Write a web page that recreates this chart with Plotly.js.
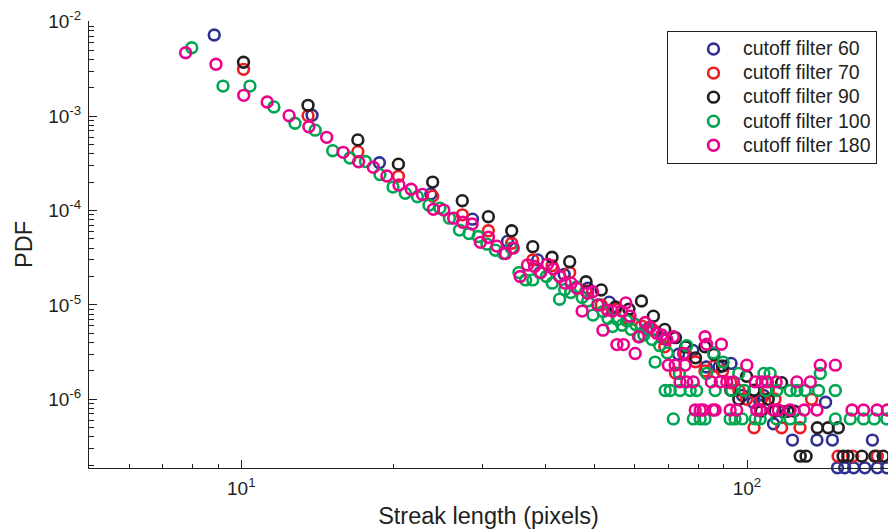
<!DOCTYPE html>
<html>
<head>
<meta charset="utf-8">
<script src="https://cdn.plot.ly/plotly-3.0.1.min.js"></script>
<style>html,body{margin:0;padding:0;background:#fff;}#chart{width:888px;height:529px;}</style>
</head>
<body>
<div id="chart"></div>
<script>
// ---- data ----
const seriesNames = ["cutoff filter 60", "cutoff filter 70", "cutoff filter 90", "cutoff filter 100", "cutoff filter 180"];

const x60 = [8.84, 13.8, 18.75, 23.7, 28.65, 33.6, 38.55, 43.5, 48.45, 53.4, 58.35, 63.3, 68.25, 73.2, 78.15, 83.1, 88.05, 93.0, 97.95, 102.9, 106.0, 107.85, 112.8, 117.75, 123.0, 137.5, 143.0, 147.5, 151.0, 156.0, 162.5, 171.0, 177.0, 181.0, 189.0];
const y60 = [7.23e-3, 1.02e-3, 3.2e-4, 1.5e-4, 8.1e-5, 4.7e-5, 3.0e-5, 2.1e-5, 1.5e-5, 1.07e-5, 7.0e-6, 5.5e-6, 4.4e-6, 3.0e-6, 3.3e-6, 2.2e-6, 2.2e-6, 2.4e-6, 1.1e-6, 9.3e-7, 9.5e-7, 1.1e-6, 5.5e-7, 7.4e-7, 3.7e-7, 3.7e-7, 9.3e-7, 3.7e-7, 1.88e-7, 1.88e-7, 1.88e-7, 1.88e-7, 3.7e-7, 1.88e-7, 1.88e-7];

const x70 = [10.1, 13.55, 17.0, 20.45, 23.9, 27.35, 30.8, 34.25, 37.7, 41.15, 44.6, 48.05, 51.5, 54.95, 58.4, 61.85, 65.3, 68.75, 72.2, 75.65, 79.1, 82.55, 86.0, 89.45, 92.9, 96.35, 99.8, 103.25, 106.7, 110.15, 113.6, 117.05, 120.5, 127.3, 134.2, 151.4, 161.8, 181.0];
const y70 = [3.13e-3, 1.01e-3, 4.2e-4, 2.3e-4, 1.42e-4, 9.0e-5, 6.1e-5, 4.5e-5, 3.0e-5, 2.6e-5, 2.2e-5, 1.4e-5, 1.0e-5, 9.0e-6, 6.9e-6, 6.0e-6, 5.4e-6, 3.6e-6, 1.9e-6, 3.0e-6, 2.5e-6, 2.0e-6, 2.25e-6, 2.0e-6, 1.5e-6, 1.25e-6, 1.0e-6, 5.0e-7, 1.0e-6, 1.25e-6, 1.0e-6, 5.0e-7, 7.5e-7, 5.0e-7, 1.0e-6, 2.5e-7, 2.5e-7, 2.5e-7];

const x90 = [10.1, 13.55, 17.0, 20.45, 23.9, 27.35, 30.8, 34.25, 37.7, 41.15, 44.6, 48.05, 51.5, 54.95, 58.4, 61.85, 65.3, 68.75, 72.2, 75.65, 79.1, 82.55, 86.0, 89.45, 92.9, 96.35, 99.8, 103.25, 106.7, 110.15, 113.6, 117.05, 120.5, 123.95, 127.4, 130.85, 137.75, 144.65, 151.55, 154.9, 158.3, 168.7, 179.0, 185.9];
const y90 = [3.72e-3, 1.3e-3, 5.6e-4, 3.1e-4, 2.0e-4, 1.27e-4, 8.6e-5, 6.1e-5, 4.14e-5, 3.2e-5, 2.87e-5, 1.76e-5, 1.44e-5, 9.5e-6, 9.0e-6, 1.1e-5, 7.6e-6, 5.5e-6, 4.5e-6, 3.6e-6, 2.75e-6, 3.6e-6, 3.0e-6, 2.25e-6, 1.25e-6, 1.0e-6, 1.75e-6, 1.25e-6, 7.5e-7, 1.0e-6, 7.5e-7, 1.5e-6, 7.5e-7, 7.5e-7, 2.5e-7, 2.5e-7, 5.0e-7, 5.0e-7, 5.0e-7, 2.5e-7, 2.5e-7, 2.5e-7, 2.5e-7, 2.5e-7];

const x100 = [7.98, 9.2, 10.4, 11.6, 12.77, 14.0, 15.16, 16.4, 17.6, 18.8, 19.95, 21.1, 22.3, 23.5, 24.7, 25.8, 27.0, 28.2, 29.4, 30.6, 31.8, 33.0, 34.2, 35.4, 36.5, 37.7, 38.9, 40.1, 41.2, 42.6, 43.6, 44.8, 46.0, 47.2, 48.4, 49.6, 50.8, 51.9, 53.1, 54.2, 55.4, 56.6, 57.8, 59.0, 60.2, 61.3, 62.5, 63.7, 64.9, 65.8, 67.2, 68.9, 69.6, 70.5, 71.5, 73.5, 73.7, 76.0, 77.2, 78.3, 79.5, 80.8, 82.6, 83.2, 85.8, 86.5, 89.7, 92.6, 93.3, 94.7, 96.3, 97.8, 98.8, 103.8, 106.2, 108.0, 109.0, 111.1, 114.5, 114.5, 121.7, 121.7, 125.5, 127.4, 130.3, 138.5, 139.6, 149.5, 149.5, 160.0, 170.0, 178.5, 189.0];
const y100 = [5.3e-3, 2.08e-3, 2.08e-3, 1.25e-3, 8.4e-4, 7.1e-4, 4.3e-4, 3.6e-4, 3.3e-4, 2.4e-4, 1.77e-4, 1.52e-4, 1.4e-4, 1.14e-4, 1.06e-4, 8.3e-5, 6.2e-5, 5.7e-5, 5.3e-5, 4.4e-5, 3.8e-5, 3.5e-5, 4.0e-5, 2.2e-5, 1.84e-5, 1.84e-5, 2.2e-5, 2.0e-5, 1.7e-5, 1.15e-5, 1.45e-5, 1.35e-5, 1.55e-5, 1.2e-5, 1.1e-5, 7.8e-6, 1.0e-5, 8.5e-6, 7.2e-6, 5.9e-6, 7.0e-6, 6.1e-6, 6.8e-6, 5.5e-6, 6.2e-6, 4.6e-6, 4.8e-6, 5.6e-6, 4.3e-6, 2.48e-6, 3.7e-6, 1.24e-6, 3.1e-6, 1.24e-6, 6.2e-7, 1.88e-6, 1.24e-6, 3.7e-6, 1.24e-6, 6.2e-7, 1.24e-6, 6.2e-7, 6.2e-7, 1.88e-6, 3.1e-6, 1.24e-6, 2.48e-6, 6.2e-7, 1.24e-6, 6.2e-7, 1.88e-6, 6.2e-7, 1.24e-6, 6.2e-7, 6.2e-7, 1.88e-6, 1.24e-6, 1.88e-6, 1.24e-6, 6.2e-7, 6.2e-7, 1.24e-6, 1.24e-6, 6.2e-7, 1.24e-6, 1.24e-6, 1.88e-6, 1.24e-6, 6.2e-7, 6.2e-7, 6.2e-7, 6.2e-7, 6.2e-7];

const x180 = [7.76, 8.91, 10.11, 11.25, 12.43, 13.6, 14.75, 15.9, 17.06, 18.24, 19.4, 20.5, 21.67, 22.82, 23.98, 25.14, 26.3, 27.4, 28.6, 29.7, 30.8, 32.0, 33.3, 34.5, 35.6, 36.8, 38.0, 39.1, 40.3, 41.4, 42.6, 43.7, 44.9, 46.1, 47.2, 48.4, 49.5, 50.7, 51.9, 53.0, 54.2, 55.3, 56.5, 57.0, 57.6, 58.7, 60.1, 61.0, 62.9, 64.3, 66.3, 67.8, 69.4, 69.9, 71.5, 72.1, 73.7, 74.9, 75.4, 76.0, 78.3, 79.0, 80.8, 81.9, 82.6, 83.2, 85.0, 85.6, 86.5, 88.5, 89.0, 91.2, 92.6, 94.0, 95.4, 99.9, 103.8, 104.5, 106.2, 107.0, 109.8, 112.7, 114.2, 115.3, 121.7, 125.5, 129.7, 133.4, 137.5, 139.6, 149.5, 161.3, 170.0, 180.8, 189.5];
const y180 = [4.69e-3, 3.54e-3, 1.66e-3, 1.41e-3, 1.01e-3, 7.7e-4, 5.96e-4, 4.13e-4, 3.29e-4, 2.87e-4, 2.32e-4, 1.86e-4, 1.68e-4, 1.48e-4, 1.03e-4, 1.01e-4, 8.3e-5, 7.5e-5, 7.2e-5, 4.6e-5, 5.2e-5, 4.2e-5, 3.5e-5, 4.0e-5, 2.0e-5, 2.65e-5, 2.55e-5, 2.2e-5, 2.7e-5, 2.4e-5, 2.0e-5, 1.7e-5, 1.7e-5, 1.5e-5, 8.6e-6, 1.33e-5, 1.38e-5, 1.0e-5, 5.4e-6, 8.8e-6, 8.6e-6, 3.8e-6, 8.6e-6, 3.8e-6, 1.05e-5, 7.6e-6, 3.06e-6, 4.6e-6, 6.5e-6, 5.8e-6, 5.0e-6, 4.8e-6, 4.3e-6, 2.3e-6, 4.6e-6, 2.3e-6, 1.53e-6, 3.06e-6, 2.3e-6, 1.53e-6, 1.53e-6, 7.7e-7, 7.7e-7, 7.7e-7, 4.6e-6, 3.83e-6, 1.53e-6, 7.7e-7, 7.7e-7, 1.53e-6, 3.83e-6, 1.53e-6, 7.7e-7, 1.53e-6, 7.7e-7, 2.3e-6, 1.53e-6, 7.7e-7, 7.7e-7, 1.53e-6, 1.53e-6, 7.7e-7, 1.53e-6, 7.7e-7, 7.7e-7, 1.53e-6, 7.7e-7, 1.53e-6, 7.7e-7, 2.3e-6, 2.3e-6, 7.7e-7, 7.7e-7, 7.7e-7, 7.7e-7];

const xTickVals = [10, 100];
const xTickText = ["10<sup>1</sup>", "10<sup>2</sup>"];
const yTickVals = [1e-6, 1e-5, 1e-4, 1e-3, 1e-2];
const yTickText = ["10<sup>-6</sup>", "10<sup>-5</sup>", "10<sup>-4</sup>", "10<sup>-3</sup>", "10<sup>-2</sup>"];
const xMinorVals = [6, 7, 8, 9, 20, 30, 40, 50, 60, 70, 80, 90, 200];
const yMinorVals = [2e-7, 3e-7, 4e-7, 5e-7, 6e-7, 7e-7, 8e-7, 9e-7,
  2e-6, 3e-6, 4e-6, 5e-6, 6e-6, 7e-6, 8e-6, 9e-6,
  2e-5, 3e-5, 4e-5, 5e-5, 6e-5, 7e-5, 8e-5, 9e-5,
  2e-4, 3e-4, 4e-4, 5e-4, 6e-4, 7e-4, 8e-4, 9e-4,
  2e-3, 3e-3, 4e-3, 5e-3, 6e-3, 7e-3, 8e-3, 9e-3];

// ---- styles ----
const colors = ["#2E3192", "#ED1C24", "#231F20", "#00A651", "#EC008C"];
const xs = [x60, x70, x90, x100, x180];
const ys = [y60, y70, y90, y100, y180];
const ink = "#231F20";
const FONT = "Liberation Sans, Arial, Helvetica, sans-serif";

const traces = xs.map((xv, i) => ({
  type: "scatter",
  mode: "markers",
  x: xv,
  y: ys[i],
  name: '<span style="font-size:19.5px">' + seriesNames[i] + '</span>',
  cliponaxis: false,
  marker: { symbol: "circle-open", size: 10.8, color: colors[i], line: { width: 2.6 } }
}));

const layout = {
  width: 888, height: 529,
  margin: { l: 89, r: 0, t: 21, b: 61, pad: 0 },
  paper_bgcolor: "#ffffff", plot_bgcolor: "#ffffff",
  font: { family: FONT, color: ink },
  showlegend: true,
  legend: {
    x: 0.7234, y: 0.9776, xanchor: "left", yanchor: "top",
    bgcolor: "#ffffff", bordercolor: ink, borderwidth: 1,
    font: { size: 16.2, family: FONT, color: ink },
    indentation: 16, itemwidth: 49,
    traceorder: "normal"
  },
  xaxis: {
    type: "log", range: [0.6988, 2.2788], autorange: false,
    tickmode: "array", tickvals: xTickVals, ticktext: xTickText,
    ticks: "inside", ticklen: 8, tickwidth: 1, tickcolor: ink,
    showline: true, linecolor: ink, linewidth: 1, mirror: false,
    showgrid: false, zeroline: false,
    tickfont: { size: 19, family: FONT, color: ink },
    ticklabelstandoff: 3,
    minor: { tickmode: "array", tickvals: xMinorVals, ticks: "inside", ticklen: 4.5, tickwidth: 1, tickcolor: ink, showgrid: false },
    title: { text: "Streak length (pixels)", font: { size: 23.5, family: FONT, color: ink }, standoff: 9 }
  },
  yaxis: {
    type: "log", range: [-6.7276, -1.9925], autorange: false,
    tickmode: "array", tickvals: yTickVals, ticktext: yTickText,
    ticks: "inside", ticklen: 8, tickwidth: 1, tickcolor: ink,
    showline: true, linecolor: ink, linewidth: 1, mirror: false,
    showgrid: false, zeroline: false,
    tickfont: { size: 19, family: FONT, color: ink },
    ticklabelstandoff: 3,
    minor: { tickmode: "array", tickvals: yMinorVals, ticks: "inside", ticklen: 4.5, tickwidth: 1, tickcolor: ink, showgrid: false },
    title: { text: "PDF", font: { size: 23.5, family: FONT, color: ink }, standoff: 9 }
  }
};

Plotly.newPlot("chart", traces, layout, { displayModeBar: false, staticPlot: true });
</script>
</body>
</html>
